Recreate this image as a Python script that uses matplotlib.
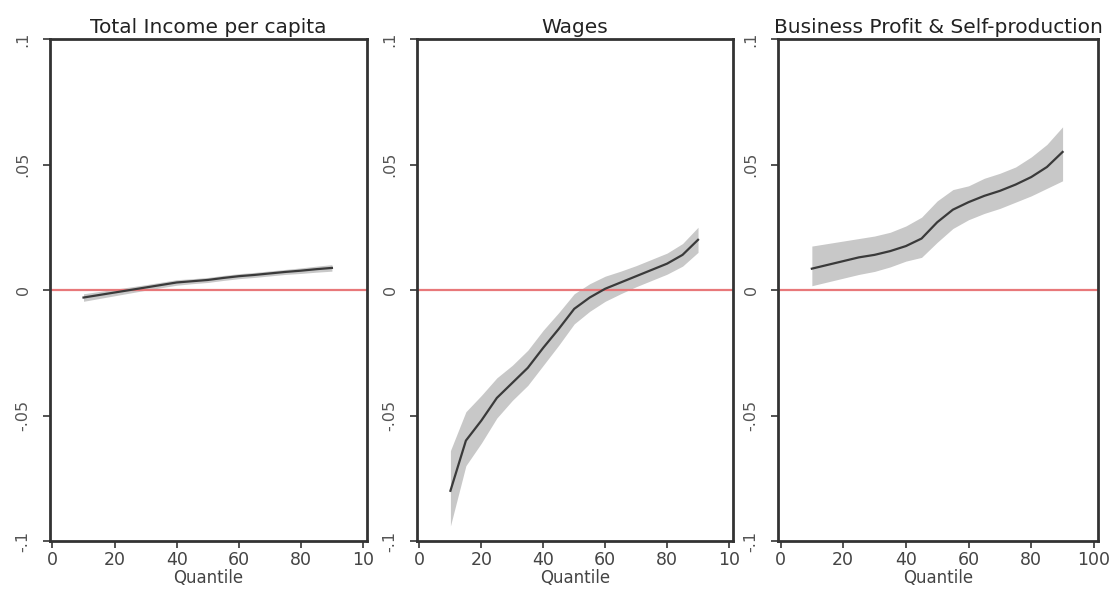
import matplotlib
matplotlib.use("Agg")
import matplotlib.pyplot as plt
import numpy as np

plt.rcParams['font.family'] = ['DejaVu Sans']

quantiles = [10, 15, 20, 25, 30, 35, 40, 45, 50, 55, 60, 65, 70, 75, 80, 85, 90]

titles = ["Total Income per capita", "Wages", "Business Profit & Self-production"]

income_est = [-0.003, -0.002, -0.001, 0.000, 0.001, 0.002, 0.003, 0.0035, 0.004,
              0.0048, 0.0055, 0.006, 0.0066, 0.0072, 0.0077, 0.0083, 0.0088]
income_lo = [-0.0045, -0.0034, -0.0023, -0.0012, -0.0001, 0.0009, 0.0019, 0.0025, 0.0030,
             0.0038, 0.0045, 0.0050, 0.0056, 0.0062, 0.0066, 0.0071, 0.0075]
income_hi = [-0.0015, -0.0006, 0.0003, 0.0012, 0.0021, 0.0031, 0.0041, 0.0045, 0.0050,
             0.0058, 0.0065, 0.0070, 0.0076, 0.0082, 0.0088, 0.0095, 0.0101]

wages_est = [-0.080, -0.060, -0.052, -0.043, -0.037, -0.031, -0.023, -0.0155, -0.0075,
             -0.003, 0.0005, 0.003, 0.0055, 0.008, 0.0105, 0.014, 0.020]
wages_lo = [-0.094, -0.070, -0.061, -0.051, -0.044, -0.038, -0.030, -0.022, -0.0135,
            -0.0085, -0.0045, -0.0015, 0.0013, 0.0038, 0.0063, 0.0095, 0.015]
wages_hi = [-0.064, -0.0485, -0.042, -0.035, -0.030, -0.024, -0.016, -0.009, -0.0015,
            0.0025, 0.0055, 0.0075, 0.0097, 0.0122, 0.0147, 0.0185, 0.025]

business_est = [0.0085, 0.010, 0.0115, 0.013, 0.014, 0.0155, 0.0175, 0.0205, 0.027,
                0.032, 0.035, 0.0375, 0.0395, 0.042, 0.045, 0.049, 0.055]
business_lo = [0.0017, 0.0032, 0.0047, 0.0062, 0.0074, 0.0092, 0.0115, 0.013, 0.019,
               0.0245, 0.028, 0.0305, 0.0325, 0.035, 0.0375, 0.0405, 0.0435]
business_hi = [0.0175, 0.0185, 0.0195, 0.0205, 0.0215, 0.023, 0.0255, 0.029, 0.0355,
               0.040, 0.0415, 0.0445, 0.0465, 0.049, 0.053, 0.058, 0.065]

series = [(income_est, income_lo, income_hi),
          (wages_est, wages_lo, wages_hi),
          (business_est, business_lo, business_hi)]

yticks = [-0.1, -0.05, 0, 0.05, 0.1]
ytick_labels = ["-.1", "-.05", "0", ".05", ".1"]
xticks = [0, 20, 40, 60, 80, 100]
xtick_labels_short = ["0", "20", "40", "60", "80", "10"]
xtick_labels_full = ["0", "20", "40", "60", "80", "100"]

fig = plt.figure(figsize=(11.18, 5.9), dpi=100)
W, H = 1118, 590
lefts = [50, 417, 778]
rights = [367, 733, 1098]
top, bottom = 39, 541

for i in range(3):
    ax = fig.add_axes([lefts[i] / W, 1 - bottom / H, (rights[i] - lefts[i]) / W, (bottom - top) / H])
    est, lo, hi = series[i]
    ax.fill_between(quantiles, lo, hi, color="#c8c8c8", linewidth=0, zorder=1)
    ax.plot(quantiles, est, color="#3a3a3a", linewidth=1.6, zorder=3)
    ax.axhline(0, color="#e8787a", linewidth=1.6, zorder=2)
    ax.set_xlim(-0.8, 101.3)
    ax.set_ylim(-0.1, 0.1)
    ax.set_yticks(yticks)
    ax.set_yticklabels(ytick_labels, rotation=90, va="center", color="#555555", fontsize=11.5)
    ax.set_xticks(xticks)
    ax.set_xticklabels(xtick_labels_full if i == 2 else xtick_labels_short, color="#444444", fontsize=12.5)
    ax.tick_params(axis="both", direction="out", length=5, width=1.3, color="#444444")
    ax.tick_params(axis="x", pad=2)
    ax.tick_params(axis="y", pad=9)
    ax.set_xlabel("Quantile", fontsize=12, color="#444444", labelpad=0)
    ax.set_title(titles[i], fontsize=14.5, color="#222222", pad=4)
    for s in ax.spines.values():
        s.set_linewidth(2.0)
        s.set_color("#333333")

fig.savefig("out.png", dpi=100)
